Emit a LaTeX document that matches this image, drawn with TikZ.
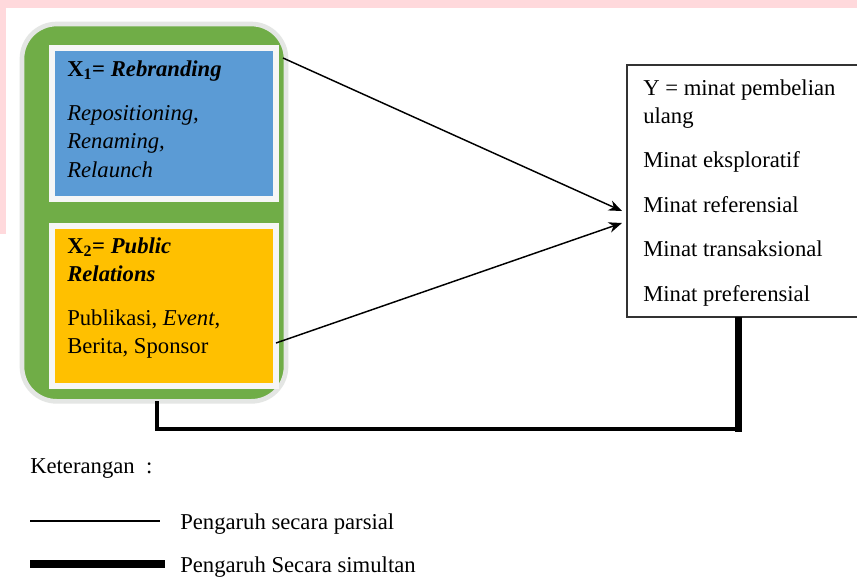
\documentclass[tikz,border=0pt]{standalone}
\usepackage{fontspec}
\setmainfont{Liberation Serif}[
  BoldFont=Liberation Serif Bold,
  ItalicFont=Liberation Serif Italic,
  BoldItalicFont=Liberation Serif Bold Italic]
\usetikzlibrary{arrows.meta}
\definecolor{pinkbg}{HTML}{FFD9DC}
\definecolor{grn}{HTML}{70AD47}
\definecolor{blu}{HTML}{5B9BD5}
\definecolor{blushadow}{HTML}{2E4D73}
\definecolor{org}{HTML}{FFC000}
\definecolor{orgshadow}{HTML}{7F6000}
\definecolor{glow}{HTML}{E4E6E4}
\tikzset{
  txt/.style={inner sep=0pt, anchor=base west, font=\fontsize{17}{21}\selectfont},
  framebox/.style={draw=white!93!gray, line width=4.5pt, inner sep=0pt, anchor=north west},
  partial/.style={line width=1.1pt},
  simul/.style={line width=2.8pt},
  arr/.style={partial, -{Stealth[length=10pt,width=8pt]}}
}
\begin{document}
\begin{tikzpicture}[x=0.75pt,y=-0.75pt]
\useasboundingbox (0,0) rectangle (857,576);
\fill[white] (0,0) rectangle (857,576);
% background artifacts
\fill[pinkbg] (0,0) rectangle (857,8);
\fill[pinkbg] (0,0) rectangle (6,234);
% green container
\node[draw=glow, line width=3.5pt, fill=grn, rounded corners=26pt, minimum width=198pt, minimum height=283pt, inner sep=0pt, outer sep=0pt, anchor=north west] (green) at (22,24) {};
% shadows
\fill[blushadow] (53,50) rectangle (276,200);
\fill[orgshadow] (53,228) rectangle (276,388);
% blue box
\node[framebox, fill=blu, minimum width=168pt, minimum height=113pt] (blue) at (49,45) {};
% orange box
\node[framebox, fill=org, minimum width=168pt, minimum height=120pt] (orange) at (49,223) {};
% texts in blue
\node[txt] (b1) at (67,76) {\textbf{X\textsubscript{1}= \textit{Rebranding}}};
\node[txt] (b2) at (67,120) {\textit{Repositioning,}};
\node[txt] (b3) at (67,148) {\textit{Renaming,}};
\node[txt] (b4) at (67,177) {\textit{Relaunch}};
% texts in orange
\node[txt] (o1) at (67,253) {\textbf{X\textsubscript{2}= \textit{Public}}};
\node[txt] (o2) at (67,281) {\textbf{\textit{Relations}}};
\node[txt] (o3) at (67,325) {Publikasi, \textit{Event},};
\node[txt] (o4) at (67,353) {Berita, Sponsor};
% Y box
\node[draw=black!80, line width=0.9pt, fill=white, minimum width=173pt, minimum height=189pt, inner sep=0pt, outer sep=0pt, anchor=north west] (Y) at (627,65) {};
\node[txt] (y1) at (643,95) {Y = minat pembelian};
\node[txt] (y2) at (643,123) {ulang};
\node[txt] (y3) at (643,167) {Minat eksploratif};
\node[txt] (y4) at (643,212) {Minat referensial};
\node[txt] (y5) at (643,256) {Minat transaksional};
\node[txt] (y6) at (643,301) {Minat preferensial};
% partial arrows
\draw[arr] ([shift={(4,13)}]blue.north east) -- ([shift={(-5,20)}]Y.west);
\draw[arr] ([shift={(-3,37)}]orange.east) -- ([shift={(-5,32)}]Y.west);
% simultaneous line
\draw[simul] ([xshift=2pt]green.south) -- ++(0,28) -| ([xshift=-3pt]Y.south);
\draw[line width=5.5pt] ([xshift=-3pt]Y.south) -- ++(0,115);
% legend
\node[txt] (ket) at (30,473) {Keterangan\ \ :};
\coordinate (l1a) at (30,521);
\coordinate (l1b) at (160,521);
\coordinate (l2a) at (30,564);
\coordinate (l2b) at (165,564);
\draw[partial] (l1a) -- (l1b);
\draw[line width=6.5pt] (l2a) -- (l2b);
\node[txt] (lt1) at (180,529) {Pengaruh secara parsial};
\node[txt] (lt2) at (180,572) {Pengaruh Secara simultan};
\end{tikzpicture}
\end{document}
